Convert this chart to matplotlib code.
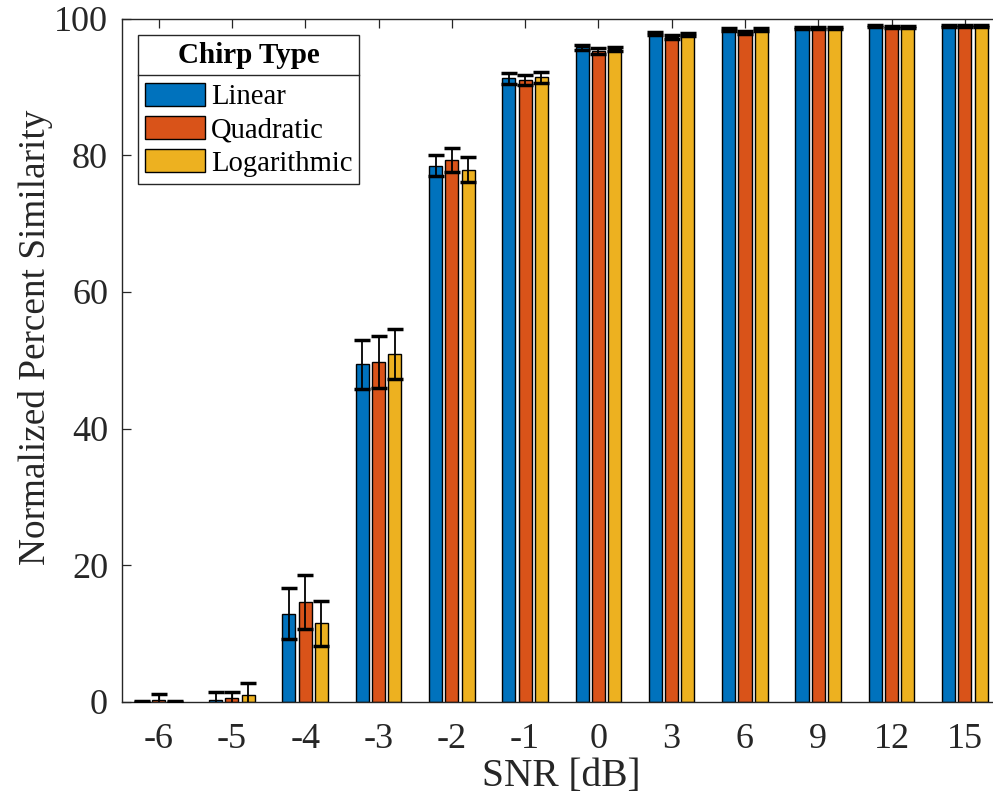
import numpy as np
import matplotlib
matplotlib.use('Agg')
import matplotlib.pyplot as plt
from matplotlib.lines import Line2D

plt.rcParams['font.family'] = ['Liberation Serif', 'DejaVu Serif']

snr_labels = ['-6', '-5', '-4', '-3', '-2', '-1', '0', '3', '6', '9', '12', '15']

linear = [0.0, 0.2, 12.9, 49.4, 78.5, 91.3, 95.8, 97.8, 98.4, 98.7, 98.9, 98.9]
linear_err = [0.05, 1.2, 3.7, 3.6, 1.6, 0.8, 0.4, 0.2, 0.2, 0.15, 0.15, 0.15]
quadratic = [0.3, 0.5, 14.6, 49.7, 79.3, 91.0, 95.3, 97.3, 98.0, 98.6, 98.8, 98.9]
quadratic_err = [0.9, 0.9, 4.0, 3.8, 1.8, 0.7, 0.4, 0.3, 0.2, 0.15, 0.15, 0.15]
logarithmic = [0.0, 1.0, 11.5, 50.9, 77.9, 91.4, 95.5, 97.7, 98.4, 98.7, 98.8, 98.9]
logarithmic_err = [0.05, 1.8, 3.3, 3.6, 1.8, 0.8, 0.3, 0.2, 0.2, 0.15, 0.15, 0.15]

series = [('Linear', linear, linear_err, '#0072BD'),
          ('Quadratic', quadratic, quadratic_err, '#D95319'),
          ('Logarithmic', logarithmic, logarithmic_err, '#EDB120')]

axcol = '#262626'
W, H = 993, 805
fig = plt.figure(figsize=(W / 100, H / 100), dpi=100)
ax = fig.add_axes([122 / W, (805 - 701.7) / H, (1001.5 - 122) / W, (701.7 - 18.7) / H])

x = np.arange(len(snr_labels))
slot = 0.222
width = 0.178
for i, (name, vals, errs, col) in enumerate(series):
    pos = x + (i - 1) * slot
    ax.bar(pos, vals, width, color=col, edgecolor='black', linewidth=1.0,
           label=name, zorder=2)
    ax.errorbar(pos, vals, yerr=errs, fmt='none', ecolor='black',
                elinewidth=1.3, capsize=6, capthick=2.5, zorder=3)

ax.set_xlim(-0.5, 11.5)
ax.set_ylim(0, 100)
ax.set_xticks(x)
ax.set_xticklabels(snr_labels)
ax.set_yticks(np.arange(0, 101, 20))
ax.tick_params(direction='in', length=6.5, width=0.9, colors=axcol,
               labelsize=26, top=True, right=True, pad=10)
ax.tick_params(axis='x', pad=15)
for s in ax.spines.values():
    s.set_color(axcol)
    s.set_linewidth(1.0)

ax.set_xlabel('SNR [dB]', fontsize=28.4, color=axcol, labelpad=2)
ax.set_ylabel('Normalized Percent Similarity', fontsize=26.8, color=axcol)
ax.yaxis.set_label_coords(-0.0785, 0.534)

leg = ax.legend(loc='upper left', bbox_to_anchor=(0.018, 0.976), borderaxespad=0,
                fontsize=20.6, title='Chirp Type',
                title_fontproperties={'weight': 'bold', 'size': 21},
                handlelength=2.1, handleheight=0.85, handletextpad=0.2,
                labelspacing=0.2, borderpad=0.25, fancybox=False,
                edgecolor=axcol, framealpha=1)
leg.get_frame().set_linewidth(1.0)
leg._legend_box.sep = 10

# separator line under the legend title
fig.canvas.draw()
fb = leg.get_frame().get_window_extent()
tb = leg.get_title().get_window_extent()
first = leg.get_texts()[0].get_window_extent()
ysep = (tb.y0 + first.y1) / 2 + 2
inv = fig.transFigure.inverted()
p0 = inv.transform((fb.x0, ysep))
p1 = inv.transform((fb.x1, ysep))
fig.add_artist(Line2D([p0[0], p1[0]], [p0[1], p1[1]], color=axcol, linewidth=1.0))

fig.savefig('out.png', dpi=100)
